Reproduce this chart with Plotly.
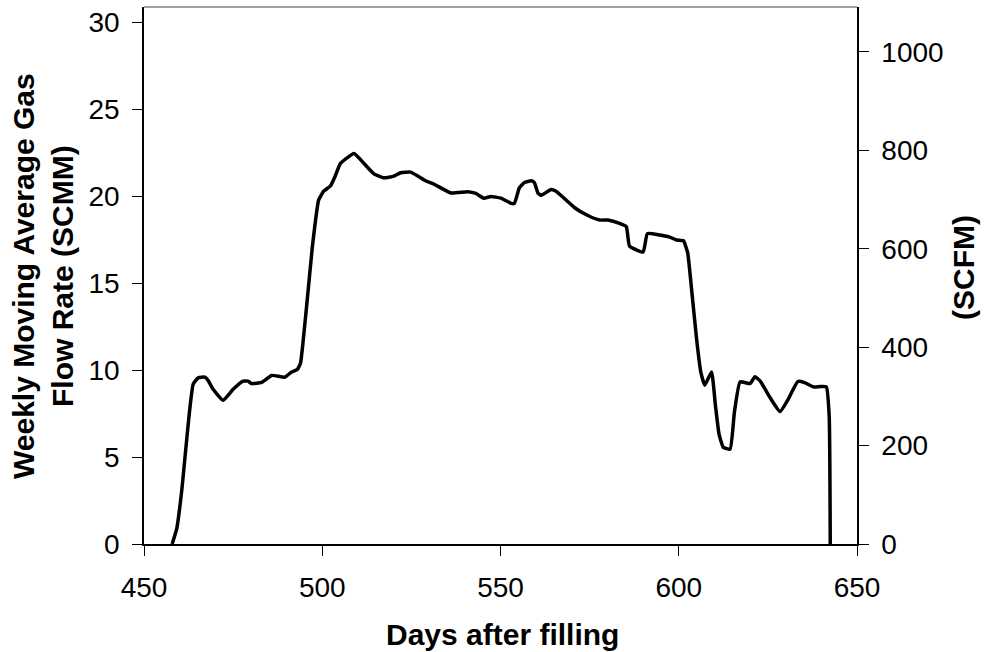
import plotly.graph_objects as go

# Data
days = [457.9, 459.2, 460.6, 461.5, 462.7, 463.8, 465.2, 467.1, 468.0, 469.4,
        472.2, 475.0, 477.8, 479.2, 480.2, 483.0, 485.8, 489.5, 491.4, 493.0,
        493.9, 494.7, 496.0, 497.2, 499.0, 500.4, 502.3, 503.7, 505.1, 508.9,
        511.7, 514.5, 517.3, 520.1, 522.0, 524.8, 529.0, 531.4, 536.1, 540.8,
        543.1, 545.3, 547.3, 550.1, 553.0, 553.9, 555.3, 556.7, 558.6, 559.5,
        560.5, 561.4, 564.2, 565.6, 567.0, 570.8, 574.5, 577.8, 580.1, 583.4,
        585.3, 586.2, 590.0, 591.2, 594.2, 597.5, 599.4, 601.3, 602.5, 603.6,
        605.0, 606.2, 607.3, 609.2, 610.3, 611.3, 612.5, 614.4, 615.6, 617.2,
        620.0, 621.4, 622.8, 625.6, 628.4, 630.7, 633.4, 635.3, 637.8, 639.7,
        641.4, 642.2, 642.5]
flow_scmm = [0, 0.9, 3.1, 5.0, 7.5, 9.2, 9.56, 9.6, 9.4, 8.9,
             8.27, 8.9, 9.37, 9.37, 9.23, 9.3, 9.7, 9.6, 9.9, 10.04,
             10.4, 11.8, 14.5, 17.05, 19.8, 20.3, 20.6, 21.2, 21.9, 22.47,
             21.9, 21.3, 21.07, 21.17, 21.36, 21.4, 20.9, 20.7, 20.2, 20.27,
             20.17, 19.9, 20.0, 19.9, 19.6, 19.6, 20.5, 20.8, 20.9, 20.8,
             20.2, 20.06, 20.4, 20.3, 20.05, 19.35, 18.9, 18.64, 18.64, 18.45,
             18.26, 17.14, 16.8, 17.86, 17.8, 17.66, 17.49, 17.45, 16.76, 14.66,
             11.8, 9.87, 9.14, 9.9, 7.95, 6.32, 5.56, 5.46, 7.57, 9.33,
             9.23, 9.62, 9.39, 8.43, 7.62, 8.33, 9.35, 9.29, 9.04, 9.06,
             9.04, 7.37, 0]

SCFM_PER_SCMM = 35.3147
flow_scfm = [v * SCFM_PER_SCMM for v in flow_scmm]

x_ticks = [450, 500, 550, 600, 650]
y_ticks = [0, 5, 10, 15, 20, 25, 30]
y2_ticks = [0, 200, 400, 600, 800, 1000]

Y_MAX = 30.9
FONT = "Liberation Sans, Arial, sans-serif"

fig = go.Figure()
fig.add_trace(go.Scatter(
    x=days, y=flow_scmm, mode="lines",
    line=dict(color="black", width=3.5, shape="spline", smoothing=0.4),
    showlegend=False, hoverinfo="x+y"))
fig.add_trace(go.Scatter(
    x=days, y=flow_scfm, mode="lines", yaxis="y2",
    line=dict(color="rgba(0,0,0,0)", width=0),
    showlegend=False, hoverinfo="skip"))

axis_common = dict(
    showgrid=False, zeroline=False, showline=True, linecolor="black",
    linewidth=1.5, ticks="outside", ticklen=10, tickwidth=1, tickcolor="black",
    tickfont=dict(family=FONT, size=28, color="black"))

fig.update_layout(
    width=986, height=652,
    margin=dict(l=144, r=129, t=7, b=108),
    paper_bgcolor="white", plot_bgcolor="white",
    font=dict(family=FONT, color="black"),
    xaxis=dict(range=[450, 650], tickvals=x_ticks, ticklabelstandoff=8,
               **axis_common),
    yaxis=dict(range=[0, Y_MAX], tickvals=y_ticks, ticklabelstandoff=7,
               **axis_common),
    yaxis2=dict(range=[0, Y_MAX * SCFM_PER_SCMM], tickvals=y2_ticks,
                overlaying="y", side="right", ticklabelstandoff=7,
                **axis_common),
    shapes=[dict(type="line", xref="paper", yref="paper", x0=0, x1=1,
                 y0=1, y1=1, line=dict(color="#808080", width=1.5))],
    annotations=[
        dict(text="<b>Days after filling</b>", xref="paper", yref="paper",
             x=(502 - 144) / 713, y=-0.135, xanchor="center", yanchor="top",
             showarrow=False, font=dict(family=FONT, size=30, color="black")),
        dict(text="<b>Weekly Moving Average Gas<br>Flow Rate (SCMM)</b>",
             xref="paper", yref="paper", x=(43 - 144) / 713, y=(544 - 276) / 537,
             xanchor="center", yanchor="middle", textangle=-90,
             showarrow=False, font=dict(family=FONT, size=30, color="black")),
        dict(text="<b>(SCFM)</b>", xref="paper", yref="paper",
             x=(963 - 144) / 713, y=(544 - 268) / 537,
             xanchor="center", yanchor="middle", textangle=-90,
             showarrow=False, font=dict(family=FONT, size=30, color="black")),
    ])

fig.write_html("out.html")
